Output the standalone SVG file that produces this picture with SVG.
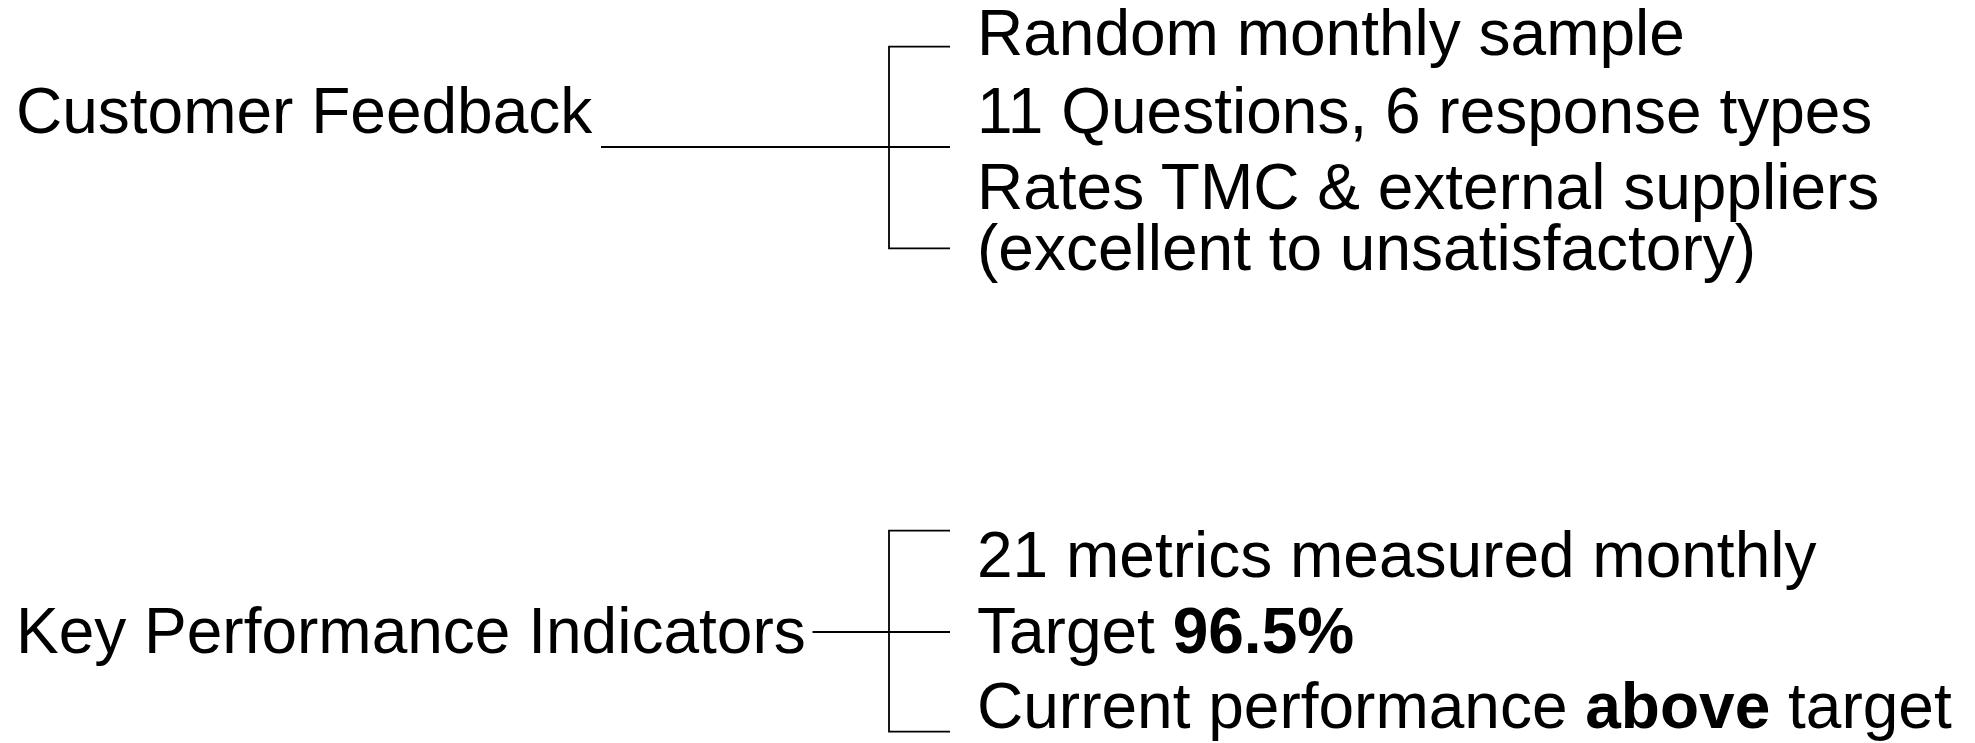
<svg xmlns="http://www.w3.org/2000/svg" width="1975" height="743" viewBox="0 0 1975 743">
<style>
text{font-family:"Liberation Sans",Arial,sans-serif;font-size:64px;fill:#000}
.b{font-weight:bold}
.ln{stroke:#000;stroke-width:1.8;fill:none}
</style>
<rect width="1975" height="743" fill="#fff"/>
<g id="connectors">
<path class="ln" d="M601,147H950M950,46.7H889V248.3H950"/>
<path class="ln" d="M812.5,632H950M950,530.7H889V731.7H950"/>
</g>
<g id="customer-feedback"><text x="16" y="133">Customer Feedback</text></g>
<g id="cf-items">
<text x="977" y="55">Random monthly sample</text>
<text x="977" y="132.5">11 Questions, 6 response types</text>
<text x="977" y="208.5">Rates TMC &amp; external suppliers</text>
<text x="977" y="269.5">(excellent to unsatisfactory)</text>
</g>
<g id="kpi"><text x="16" y="652.5">Key Performance Indicators</text></g>
<g id="kpi-items">
<text x="977" y="577.3">21 metrics measured monthly</text>
<text x="977" y="652.5">Target <tspan class="b">96.5%</tspan></text>
<text x="977" y="728">Current performance <tspan class="b">above</tspan> target</text>
</g>
</svg>
